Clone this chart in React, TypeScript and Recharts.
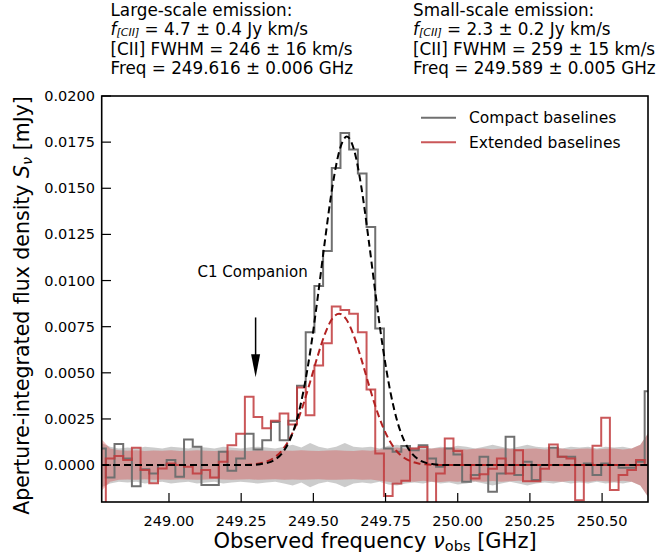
import React from 'react';
import { ComposedChart, Line, Area, XAxis, YAxis, ReferenceLine } from 'recharts';

// channel centres [GHz]
const freqs = [
  248.7662, 248.7963, 248.8264, 248.8565, 248.8866, 248.9167, 248.9468, 248.9769,
  249.0070, 249.0371, 249.0672, 249.0973, 249.1274, 249.1575, 249.1876, 249.2177,
  249.2478, 249.2779, 249.3080, 249.3381, 249.3682, 249.3983, 249.4284, 249.4585,
  249.4886, 249.5187, 249.5488, 249.5789, 249.6090, 249.6391, 249.6692, 249.6993,
  249.7294, 249.7595, 249.7896, 249.8197, 249.8498, 249.8799, 249.9100, 249.9401,
  249.9702, 250.0003, 250.0304, 250.0605, 250.0906, 250.1207, 250.1508, 250.1809,
  250.2110, 250.2411, 250.2712, 250.3013, 250.3314, 250.3615, 250.3916, 250.4217,
  250.4518, 250.4819, 250.5120, 250.5421, 250.5722, 250.6023, 250.6324, 250.6625,
];

// compact baselines spectrum
const compact = [
  0.0009, -0.00067, 0.00114, 0.00036, -0.00114, -0.00023, -0.00045, 0.0,
  0.00027, -0.00063, 0.00139, 0.00099, -0.00108, -0.00108, 0.00072, -0.00031,
  0.00036, 0.0017, 0.00085, 0.00135, 0.00234, 0.00135, 0.0024, 0.0043,
  0.0072, 0.0097, 0.0116, 0.0161, 0.018, 0.0171, 0.0158, 0.0129,
  0.0074, 0.0009, 0.00072, 0.00104, 0.0008, 0.00108, 0.00036, -0.00009,
  0.0009, 0.00058, -0.0009, -0.00054, 0.00045, -0.00144, -0.00045, 0.00153,
  -0.00054, 0.00018, -0.00081, 0.0, 0.00094, 0.00045, 0.00045, 0.0,
  0.00009, -0.00054, 0.00009, 0.0, -0.00014, -0.00014, 0.00018, 0.004,
];

// extended baselines spectrum
const extended = [
  -0.0035, 0.00036, 0.00049, 0.00027, 0.00094, -0.00027, -0.00099, -0.00018,
  0.00009, 0.0, -0.00009, -0.00045, -0.00027, -0.00067, 0.00018, 0.00108,
  0.0017, 0.0037, 0.0026, 0.002, 0.0024, 0.0028, 0.0022, 0.0042,
  0.0027, 0.0054, 0.0066, 0.0086, 0.0084, 0.0082, 0.0072, 0.0041,
  0.00063, -0.00168, -0.001, -0.00085, 0.0009, 0.00098, -0.0035, -0.00045,
  0.00144, 0.00077, 0.0, -0.00072, -0.0005, -0.0002, 0.00036, -0.00045,
  0.00081, -0.00087, -0.00087, -0.0002, 0.00112, 0.00045, 0.00036, -0.0019,
  0.0, 0.00105, 0.00256, -0.00135, -0.00054, -0.00027, 0.00027, 0.0,
];

// 1-sigma noise per channel
const compactErr = [
  0.0012, 0.001, 0.0009, 0.00095, 0.0009, 0.001, 0.00095, 0.0009,
  0.001, 0.00095, 0.0009, 0.001, 0.00095, 0.0009, 0.001, 0.00095,
  0.0009, 0.00095, 0.001, 0.00095, 0.0009, 0.001, 0.0011, 0.00095,
  0.0012, 0.001, 0.0009, 0.001, 0.0012, 0.001, 0.00095, 0.001,
  0.0009, 0.00105, 0.0011, 0.001, 0.00095, 0.001, 0.0009, 0.001,
  0.00095, 0.00105, 0.001, 0.0009, 0.001, 0.0011, 0.001, 0.0009,
  0.001, 0.0011, 0.001, 0.00095, 0.001, 0.0009, 0.001, 0.00095,
  0.001, 0.0009, 0.001, 0.00095, 0.001, 0.0009, 0.0011, 0.0018,
];

const extendedErr = [
  0.0014, 0.0009, 0.0008, 0.00078, 0.0008, 0.00077, 0.00079, 0.00078,
  0.0008, 0.00077, 0.00078, 0.0008, 0.00078, 0.00076, 0.00078, 0.0008,
  0.00078, 0.00077, 0.0008, 0.00078, 0.00077, 0.00079, 0.00078, 0.0008,
  0.00078, 0.00077, 0.00079, 0.0008, 0.00078, 0.00077, 0.0008, 0.00078,
  0.00085, 0.0009, 0.00095, 0.00088, 0.0009, 0.00085, 0.0009, 0.00092,
  0.00088, 0.0009, 0.00085, 0.00088, 0.0009, 0.00086, 0.0009, 0.00088,
  0.00085, 0.00088, 0.0009, 0.00085, 0.00088, 0.0009, 0.00085, 0.00088,
  0.0009, 0.00085, 0.00088, 0.0009, 0.00085, 0.0009, 0.0011, 0.0018,
];

// gaussian fits, sampled
const largeFitFreq = [
  248.768, 249.266, 249.316, 249.341, 249.366, 249.391, 249.416, 249.441, 249.466, 249.491,
  249.516, 249.541, 249.566, 249.591, 249.616, 249.641, 249.666, 249.691, 249.716, 249.741,
  249.766, 249.791, 249.816, 249.841, 249.866, 249.891, 249.916, 249.966, 250.659,
];
const largeFit = [
  0, 0, 0.00005, 0.00012, 0.00029, 0.00063, 0.00127, 0.00235, 0.00403, 0.00634,
  0.0092, 0.01227, 0.01509, 0.01708, 0.0178, 0.01708, 0.01509, 0.01227, 0.0092, 0.00634,
  0.00403, 0.00235, 0.00127, 0.00063, 0.00029, 0.00012, 0.00005, 0, 0,
];
const smallFitFreq = [
  248.768, 249.239, 249.289, 249.314, 249.339, 249.364, 249.389, 249.414, 249.439, 249.464,
  249.489, 249.514, 249.539, 249.564, 249.589, 249.614, 249.639, 249.664, 249.689, 249.714,
  249.739, 249.764, 249.789, 249.814, 249.839, 249.864, 249.889, 249.939, 250.659,
];
const smallFit = [
  0, 0, 0.00004, 0.00009, 0.0002, 0.0004, 0.00075, 0.00132, 0.00214, 0.00323,
  0.00452, 0.00586, 0.00706, 0.0079, 0.0082, 0.0079, 0.00706, 0.00586, 0.00452, 0.00323,
  0.00214, 0.00132, 0.00075, 0.0004, 0.0002, 0.00009, 0.00004, 0, 0,
];

const xTicks = [249.0, 249.25, 249.5, 249.75, 250.0, 250.25, 250.5];
const yTicks = [0, 0.0025, 0.005, 0.0075, 0.01, 0.0125, 0.015, 0.0175, 0.02];

const companionFreq = 249.3;

const FONT = 'DejaVu Sans';

const channels = freqs.map((f, i) => ({
  f,
  compact: compact[i],
  extended: extended[i],
  compactBand: [-compactErr[i], compactErr[i]],
  extendedBand: [-extendedErr[i], extendedErr[i]],
}));
const largeFitData = largeFitFreq.map((f, i) => ({ f, v: largeFit[i] }));
const smallFitData = smallFitFreq.map((f, i) => ({ f, v: smallFit[i] }));

function YTick(props: any) {
  const { x, y, payload } = props;
  return (
    <g>
      <line x1={x + 7} x2={x + 16} y1={y} y2={y} stroke="#000" strokeWidth={1.2} />
      <text x={x} y={y} dy={5} textAnchor="end" fontSize={14.5} fontFamily={FONT} fill="#000">
        {Number(payload.value).toFixed(4)}
      </text>
    </g>
  );
}

function XTick(props: any) {
  const { x, y, payload } = props;
  return (
    <g>
      <line x1={x} x2={x} y1={y - 8} y2={y - 17} stroke="#000" strokeWidth={1.2} />
      <text x={x} y={y} dy={16} textAnchor="middle" fontSize={14.5} fontFamily={FONT} fill="#000">
        {Number(payload.value).toFixed(2)}
      </text>
    </g>
  );
}

function Arrow(props: any) {
  const { x1, y1, x2, y2 } = props;
  return (
    <g>
      <line x1={x1} y1={y1} x2={x2} y2={y2 - 20} stroke="#000" strokeWidth={1.5} />
      <polygon points={`${x2},${y2} ${x2 - 4.5},${y2 - 23} ${x2 + 4.5},${y2 - 23}`} fill="#000" />
      <text x={x1 - 3} y={y1 - 40} textAnchor="middle" fontSize={15} fontFamily={FONT} fill="#000">
        C1 Companion
      </text>
    </g>
  );
}

export default function App() {
  const txt = { fontFamily: FONT, fill: '#000' };
  return (
    <div style={{ position: 'absolute', left: 0, top: 0, width: 671, height: 555, background: '#fff', fontFamily: FONT }}>
      <ComposedChart width={671} height={555} data={channels} margin={{ top: 96, right: 23, bottom: 0, left: 0 }}>
        <XAxis
          dataKey="f" type="number" domain={[248.768, 250.659]} ticks={xTicks} allowDataOverflow
          height={53} tickSize={0} tickMargin={8} tick={<XTick />} axisLine={false}
        />
        <YAxis
          type="number" domain={[-0.002, 0.02]} ticks={yTicks} allowDataOverflow
          width={102} tickSize={0} tickMargin={7} tick={<YTick />} axisLine={false}
        />
        <Area dataKey="compactBand" type="linear" stroke="none" fill="#808080" fillOpacity={0.4} isAnimationActive={false} />
        <Area dataKey="extendedBand" type="linear" stroke="none" fill="#d62728" fillOpacity={0.3} isAnimationActive={false} />
        <Line dataKey="compact" type="step" stroke="#707070" strokeWidth={2} dot={false} isAnimationActive={false} />
        <Line dataKey="extended" type="step" stroke="#c13a3c" strokeWidth={2} strokeOpacity={0.85} dot={false} isAnimationActive={false} />
        <Line data={smallFitData} dataKey="v" type="monotone" stroke="#b22222" strokeWidth={2} strokeDasharray="7 4" dot={false} isAnimationActive={false} />
        <Line data={largeFitData} dataKey="v" type="monotone" stroke="#000" strokeWidth={2} strokeDasharray="7 4" dot={false} isAnimationActive={false} />
        <ReferenceLine
          segment={[{ x: companionFreq, y: 0.008 }, { x: companionFreq, y: 0.00476 }]}
          ifOverflow="visible" shape={<Arrow />}
        />
      </ComposedChart>

      <svg width={671} height={555} style={{ position: 'absolute', left: 0, top: 0, pointerEvents: 'none' }}>
        <rect x={101.7} y={96} width={546.3} height={406} fill="none" stroke="#000" strokeWidth={1.6} />

        <g fontSize={16.8} {...txt}>
          <text x={110.5} y={15.5}>Large-scale emission:</text>
          <text x={110.5} y={34.5}>
            <tspan fontStyle="italic">f</tspan>
            <tspan fontStyle="italic" fontSize={11} dy={1.5}>[CII]</tspan>
            <tspan dy={-1.5}> = 4.7 ± 0.4 Jy km/s</tspan>
          </text>
          <text x={110.5} y={54.5}>[CII] FWHM = 246 ± 16 km/s</text>
          <text x={110.5} y={74}>Freq = 249.616 ± 0.006 GHz</text>

          <text x={413} y={15.5}>Small-scale emission:</text>
          <text x={413} y={34.5}>
            <tspan fontStyle="italic">f</tspan>
            <tspan fontStyle="italic" fontSize={11} dy={1.5}>[CII]</tspan>
            <tspan dy={-1.5}> = 2.3 ± 0.2 Jy km/s</tspan>
          </text>
          <text x={413} y={54.5}>[CII] FWHM = 259 ± 15 km/s</text>
          <text x={413} y={74}>Freq = 249.589 ± 0.005 GHz</text>
        </g>

        <line x1={421} x2={456} y1={117.7} y2={117.7} stroke="#707070" strokeWidth={2} />
        <line x1={421} x2={456} y1={142.3} y2={142.3} stroke="#c13a3c" strokeWidth={2} strokeOpacity={0.85} />
        <text x={469} y={123} fontSize={15.5} {...txt}>Compact baselines</text>
        <text x={469} y={147.6} fontSize={15.5} {...txt}>Extended baselines</text>

        <text x={375} y={548} textAnchor="middle" fontSize={21} {...txt}>
          Observed frequency <tspan fontStyle="italic">ν</tspan>
          <tspan fontSize={14.5} dy={3}>obs</tspan>
          <tspan dy={-3}> [GHz]</tspan>
        </text>

        <text transform="translate(29 305.5) rotate(-90)" textAnchor="middle" fontSize={20.5} {...txt}>
          Aperture-integrated flux density <tspan fontStyle="italic">S</tspan>
          <tspan fontStyle="italic" fontSize={14.5} dy={3}>ν</tspan>
          <tspan dy={-3}> [mJy]</tspan>
        </text>
      </svg>
    </div>
  );
}
